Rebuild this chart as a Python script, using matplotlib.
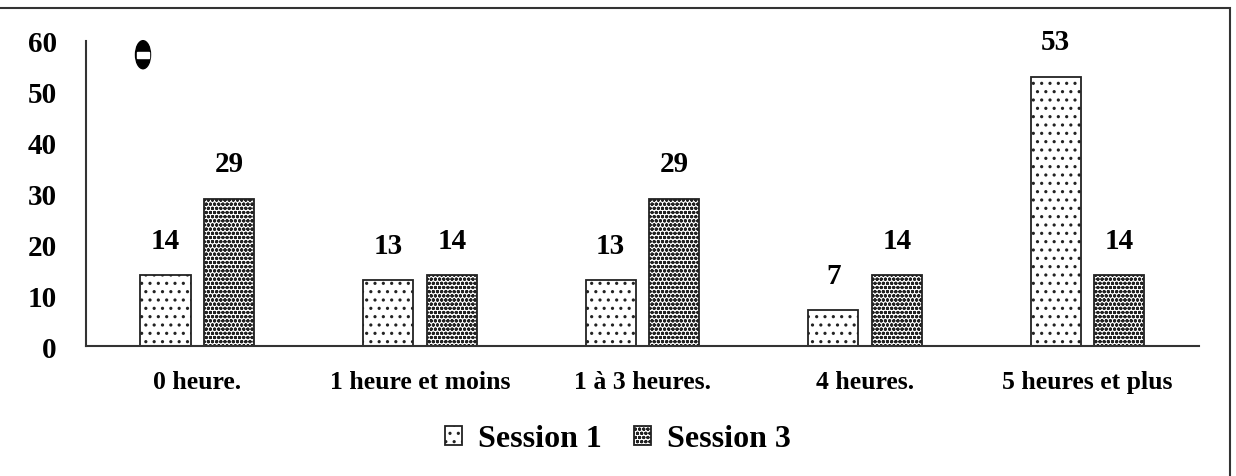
import matplotlib
matplotlib.use("Agg")
import matplotlib.pyplot as plt
import numpy as np
from matplotlib.patches import Ellipse, Rectangle

plt.rcParams['font.family'] = ['Liberation Serif', 'DejaVu Serif']
plt.rcParams['font.weight'] = 'bold'
plt.rcParams['hatch.linewidth'] = 1.1

categories = ["0 heure.", "1 heure et moins", "1 à 3 heures.", "4 heures.", "5 heures et plus"]
session1 = [14, 13, 13, 7, 53]
session3 = [29, 14, 29, 14, 14]
series_names = ["Session 1", "Session 3"]
yticks = [0, 10, 20, 30, 40, 50, 60]

fig = plt.figure(figsize=(12.36, 4.77), dpi=100)
ax = fig.add_axes([0.0696, 0.2725, 0.9004, 0.6395])

x = np.arange(len(categories))
w = 0.225
b1 = ax.bar(x - 0.143, session1, w, color='white', edgecolor='#222222',
            linewidth=1.3, hatch='..', label=series_names[0])
b3 = ax.bar(x + 0.143, session3, w, color='white', edgecolor='#222222',
            linewidth=1.3, hatch='oooo', label=series_names[1])

for bars, vals in ((b1, session1), (b3, session3)):
    for r, v in zip(bars, vals):
        ax.annotate(str(v), (r.get_x() + r.get_width() / 2, v),
                    xytext=(0, 25), textcoords='offset points',
                    ha='center', va='center', fontsize=21, fontweight='bold')

ax.set_xlim(-0.5, 4.5)
ax.set_ylim(0, 60)
ax.set_yticks(yticks)
ax.set_xticks(x)
ax.set_xticklabels(categories, fontsize=18.5, fontweight='bold')
ax.tick_params(axis='y', length=0, pad=21, labelsize=21)
ax.tick_params(axis='x', length=0, pad=17)
for s in ('top', 'right'):
    ax.spines[s].set_visible(False)
for s in ('left', 'bottom'):
    ax.spines[s].set_linewidth(1.5)
    ax.spines[s].set_color('#333333')

# the small mark in the upper left corner
ax.add_patch(Ellipse((0.0512, 0.955), 0.0135, 0.092, transform=ax.transAxes,
                     color='black', clip_on=False))
ax.add_patch(Rectangle((0.0458, 0.945), 0.0108, 0.02, transform=ax.transAxes,
                       color='white', clip_on=False))

fig.legend(handles=[b1, b3], loc='center', bbox_to_anchor=(0.5, 0.0776),
           ncol=2, frameon=False, fontsize=23, handlelength=0.55,
           handleheight=0.55, handletextpad=0.5, columnspacing=1.0)

# outer frame (only top and right visible)
fig.add_artist(Rectangle((-0.01, -0.01), 1230 / 1236 + 0.01, 1 - 9 / 477 + 0.01,
                         transform=fig.transFigure, fill=False,
                         edgecolor='#333333', linewidth=1.5))

fig.savefig("out.png", dpi=100)
